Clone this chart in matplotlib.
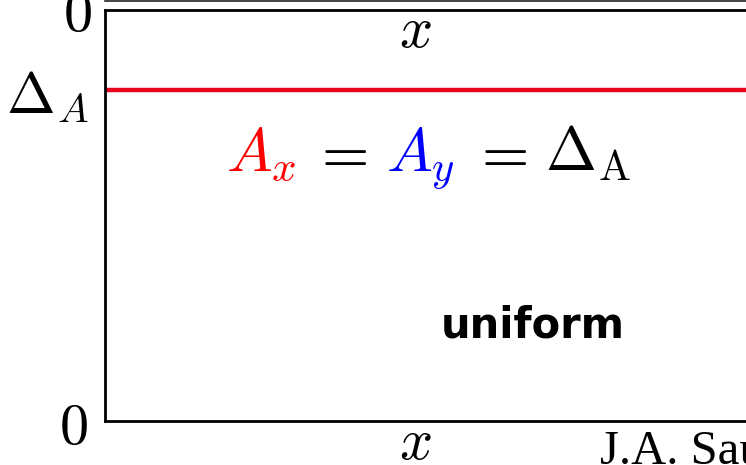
import numpy as np
import matplotlib
matplotlib.use("Agg")
import matplotlib.pyplot as plt
from matplotlib.lines import Line2D

plt.rcParams['mathtext.fontset'] = 'cm'

# gap level drawn as a flat line over x
x_vals = [0.0, 1.0]
delta_A = 0.805
gap = [delta_A, delta_A]
ytick_vals = [0.0, delta_A]
ytick_labels = ['$0$', r'$\Delta_A$']

W, H = 746, 465
fig = plt.figure(figsize=(W / 100, H / 100), dpi=100)

# axes box runs off the right edge of the figure
ax = fig.add_axes([105 / W, (H - 421) / H, 1.2, 411 / H])
ax.plot(x_vals, gap, color='#e8001c', lw=3.2, solid_capstyle='butt')
ax.set_xlim(0, 1)
ax.set_ylim(0, 1)
ax.set_xticks([])
ax.set_yticks(ytick_vals)
ax.set_yticklabels(ytick_labels, fontsize=42)
ax.tick_params(axis='y', length=0, pad=12)
for sp in ax.spines.values():
    sp.set_linewidth(2)

# bottom spine of the panel above
fig.add_artist(Line2D([105 / W, 1], [1 - 0.6 / H, 1 - 0.6 / H],
                      color='#222222', lw=1.2))


def ptext(x, y, s, **kw):
    fig.text(x / W, 1 - y / H, s, **kw)


ptext(77, 14, '$0$', fontsize=42, ha='center', va='center')
ptext(415, 30, '$x$', fontsize=42, ha='center', va='center')
ptext(415, 442, '$x$', fontsize=42, ha='center', va='center')

# colour-coded equation
base = 171
ptext(226, base, '$A_x$', fontsize=44, color='#ff0000', va='baseline')
ptext(311, base, '$=$', fontsize=44, color='black', va='baseline')
ptext(386, base, '$A_y$', fontsize=44, color='#0000ff', va='baseline')
ptext(471, base, '$=$', fontsize=44, color='black', va='baseline')
ptext(545, base, r'$\Delta_{\rm A}$', fontsize=44, color='black', va='baseline')

ptext(533, 325, 'uniform', fontsize=30, ha='center', va='center',
      family='DejaVu Sans', weight='bold')
ptext(600, 464, 'J.A. Sauls', fontsize=35, va='baseline',
      family='Liberation Serif')

fig.savefig('out.png', dpi=100)
